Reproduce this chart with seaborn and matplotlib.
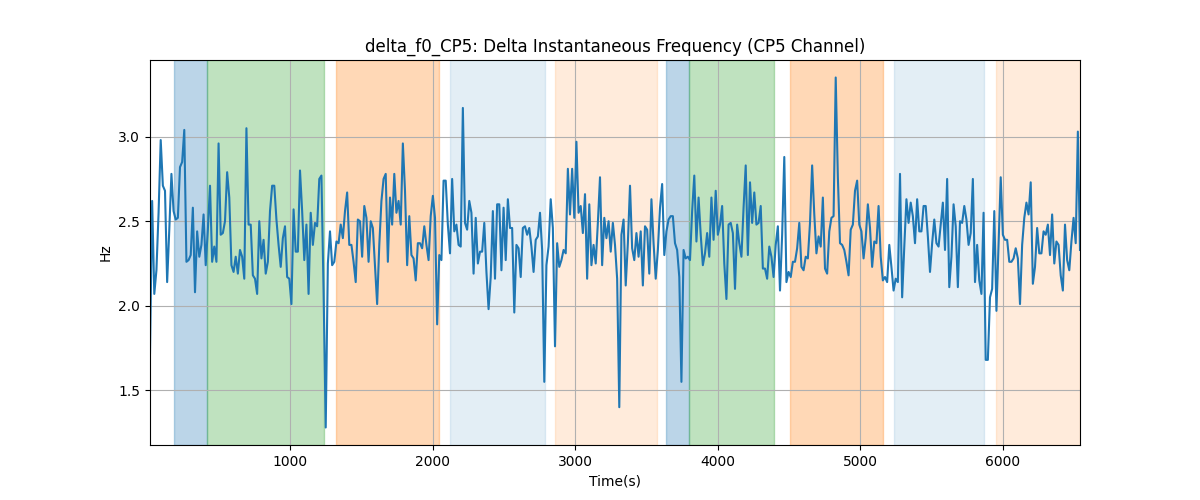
import numpy as np
import pandas as pd
import matplotlib
matplotlib.use("Agg")
import matplotlib.pyplot as plt
import seaborn as sns

# time range of the recording (s)
t_start = 18
t_end = 6540

# delta f0 values (Hz), read left to right
hz_values = [
    1.72, 2.62, 2.07, 2.21, 2.55, 2.98, 2.71, 2.68, 2.14, 2.45,
    2.78, 2.56, 2.51, 2.52, 2.82, 2.85, 3.04, 2.26, 2.27, 2.30,
    2.58, 2.08, 2.44, 2.29, 2.36, 2.54, 2.24, 2.45, 2.71, 2.26,
    2.35, 2.26, 2.96, 2.42, 2.43, 2.50, 2.79, 2.64, 2.24, 2.20,
    2.29, 2.19, 2.33, 2.29, 2.16, 3.05, 2.48, 2.48, 2.18, 2.16,
    2.07, 2.50, 2.28, 2.39, 2.19, 2.26, 2.56, 2.71, 2.71, 2.51,
    # 
    2.36, 2.23, 2.40, 2.47, 2.17, 2.16, 2.01, 2.57, 2.32, 2.32,
    2.80, 2.56, 2.27, 2.48, 2.07, 2.55, 2.36, 2.49, 2.47, 2.75,
    2.77, 2.09, 1.28, 2.25, 2.44, 2.24, 2.26, 2.38, 2.37, 2.48,
    2.40, 2.56, 2.67, 2.36, 2.36, 2.26, 2.14, 2.51, 2.50, 2.29,
    2.59, 2.52, 2.26, 2.50, 2.46, 2.23, 2.01, 2.36, 2.62, 2.75,
    2.78, 2.26, 2.64, 2.48, 2.78, 2.55, 2.62, 2.48, 2.96, 2.68,
    2.24, 2.53,
    #
    2.30, 2.28, 2.15, 2.37, 2.37, 2.34, 2.47, 2.36, 2.27, 2.53,
    2.65, 2.52, 1.89, 2.30, 2.27, 2.74, 2.74, 2.48, 2.31, 2.75,
    2.44, 2.48, 2.36, 2.35, 3.17, 2.49, 2.45, 2.62, 2.55, 2.19,
    2.52, 2.25, 2.32, 2.32, 2.49, 2.20, 1.98, 2.17, 2.56, 2.16,
    2.60, 2.60, 2.21, 2.58, 2.27, 2.63, 2.46, 2.46, 1.96, 2.36,
    2.34, 2.17, 2.46, 2.47, 2.42, 2.46, 2.35, 2.20, 2.39, 2.41,
    2.55, 2.33,
    #
    1.55, 2.24, 2.35, 2.63, 2.46, 1.76, 2.37, 2.23, 2.27, 2.33,
    2.31, 2.81, 2.54, 2.81, 2.52, 2.97, 2.55, 2.59, 2.43, 2.66,
    2.16, 2.60, 2.24, 2.36, 2.25, 2.49, 2.76, 2.24, 2.52, 2.40,
    2.50, 2.32, 2.49, 2.36, 2.16, 1.40, 2.42, 2.51, 2.12, 2.37,
    2.71, 2.34, 2.27, 2.43, 2.29, 2.44, 2.12, 2.47, 2.45, 2.19,
    2.63, 2.37, 2.16, 2.33, 2.58, 2.72, 2.30, 2.44, 2.51, 2.53,
    2.53, 2.37,
    #
    2.33, 2.17, 1.55, 2.33, 2.28, 2.29, 2.27, 2.56, 2.77, 2.38,
    2.64, 2.42, 2.24, 2.31, 2.43, 2.29, 2.64, 2.39, 2.68, 2.42,
    2.48, 2.59, 2.25, 2.04, 2.48, 2.49, 2.43, 2.10, 2.48, 2.37,
    2.29, 2.58, 2.83, 2.30, 2.73, 2.49, 2.67, 2.48, 2.49, 2.59,
    2.22, 2.22, 2.16, 2.35, 2.29, 2.17, 2.36, 2.47, 2.09, 2.42,
    2.88, 2.14, 2.20, 2.17, 2.26, 2.26, 2.34, 2.49, 2.23, 2.21,
    2.29, 2.28, 2.49,
    #
    2.83, 2.54, 2.31, 2.41, 2.35, 2.64, 2.22, 2.19, 2.44, 2.52,
    2.53, 3.35, 2.76, 2.37, 2.36, 2.33, 2.26, 2.18, 2.45, 2.48,
    2.68, 2.74, 2.48, 2.44, 2.28, 2.40, 2.60, 2.46, 2.23, 2.38,
    2.37, 2.59, 2.29, 2.15, 2.17, 2.14, 2.36, 2.23, 2.09, 2.16,
    2.14, 2.78, 2.05, 2.35, 2.63, 2.49, 2.61, 2.53, 2.37, 2.63,
    2.44, 2.44, 2.59, 2.59, 2.41, 2.20, 2.37, 2.51, 2.37, 2.35,
    #
    2.48, 2.61, 2.33, 2.75, 2.11, 2.29, 2.60, 2.47, 2.11, 2.50,
    2.49, 2.59, 2.51, 2.36, 2.43, 2.75, 2.14, 2.36, 2.15, 2.07,
    2.55, 1.68, 1.68, 2.05, 2.10, 2.56, 1.97, 2.36, 2.76, 2.42,
    2.39, 2.39, 2.26, 2.26, 2.28, 2.34, 2.28, 2.01, 2.36, 2.52,
    2.61, 2.54, 2.73, 2.13, 2.23, 2.46, 2.31, 2.31, 2.44, 2.42,
    2.48, 2.30, 2.54, 2.25, 2.38, 2.36, 2.18, 2.09, 2.48, 2.27,
    2.21, 2.38, 2.52, 2.37, 3.03, 2.33,
]

# shaded segments
span_starts = [187, 420, 1322, 2124, 2858, 3637, 3800, 4506, 5236, 5951]
span_ends = [420, 1236, 2043, 2788, 3571, 3800, 4392, 5158, 5865, 6540]
span_colors = ['tab:blue', 'tab:green', 'tab:orange', 'tab:blue', 'tab:orange',
               'tab:blue', 'tab:green', 'tab:orange', 'tab:blue', 'tab:orange']
span_alphas = [0.3, 0.3, 0.3, 0.12, 0.15, 0.3, 0.3, 0.3, 0.12, 0.15]

time = np.linspace(t_start, t_end, len(hz_values))
df = pd.DataFrame({'Time': time, 'Hz': hz_values})

fig, ax = plt.subplots(figsize=(12, 5), dpi=100)
for s, e, c, a in zip(span_starts, span_ends, span_colors, span_alphas):
    ax.axvspan(s, e, color=c, alpha=a)

sns.lineplot(data=df, x='Time', y='Hz', ax=ax, color='tab:blue', linewidth=1.5)
ax.set_xlim(time[0], time[-1])
ax.grid(True)
ax.set_xlabel("Time(s)")
ax.set_ylabel("Hz")
ax.set_title("delta_f0_CP5: Delta Instantaneous Frequency (CP5 Channel)")
plt.savefig('out.png', facecolor='white', transparent=False)
